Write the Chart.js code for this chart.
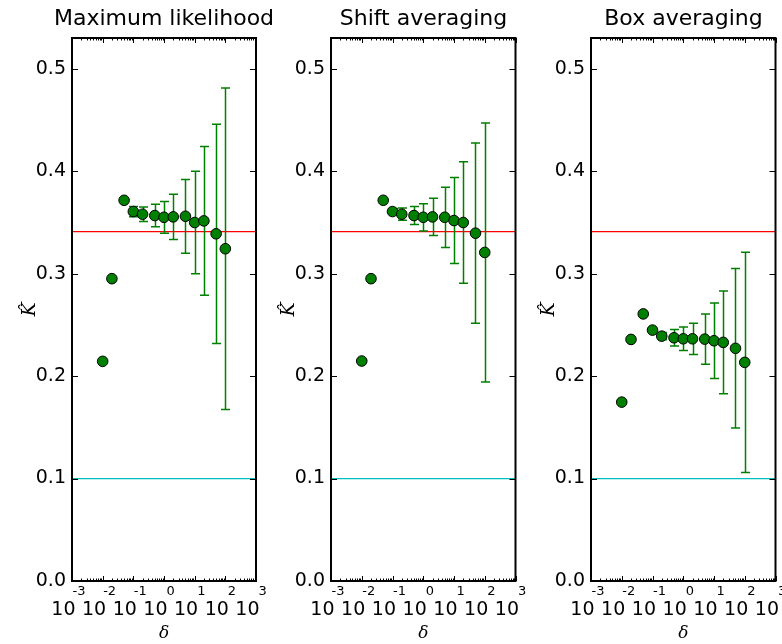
<!DOCTYPE html>
<html><head><meta charset="utf-8">
<script src="https://cdn.jsdelivr.net/npm/chart.js@4"></script>
<style>
html,body{margin:0;padding:0;background:#fff;width:782px;height:644px;overflow:hidden;position:relative;}
canvas{position:absolute;top:0;background:transparent;}
</style></head><body>
<canvas id="c0"></canvas><canvas id="c1"></canvas><canvas id="c2"></canvas>
<script>
// ---- data ----
const deltas = [0.01, 0.02, 0.05, 0.1, 0.2, 0.5, 1, 2, 5, 10, 20, 50, 100];
const titles = ["Maximum likelihood", "Shift averaging", "Box averaging"];
const mlValues    = [0.2144, 0.2951, 0.3716, 0.3606, 0.358, 0.3567, 0.355, 0.3554, 0.356, 0.3499, 0.3515, 0.3389, 0.3243];
const mlErrors    = [0, 0, 0, 0.005, 0.007, 0.011, 0.0155, 0.022, 0.036, 0.050, 0.0725, 0.107, 0.157];
const shiftValues = [0.2147, 0.2951, 0.3716, 0.3606, 0.358, 0.3567, 0.355, 0.3554, 0.355, 0.3518, 0.3499, 0.3395, 0.3207];
const shiftErrors = [0, 0, 0, 0.003, 0.006, 0.0088, 0.0133, 0.0182, 0.0294, 0.042, 0.0593, 0.088, 0.1264];
const boxValues   = [0.1746, 0.2358, 0.2607, 0.2449, 0.239, 0.2374, 0.2364, 0.2364, 0.2361, 0.2345, 0.2329, 0.2271, 0.2134];
const boxErrors   = [0, 0, 0, 0, 0.0036, 0.0081, 0.0115, 0.0153, 0.0246, 0.0368, 0.0502, 0.0778, 0.1076];
const trueK = 0.341;
const refK = 0.1;
const yTicks = [0, 0.1, 0.2, 0.3, 0.4, 0.5];
const xTickExps = [-3, -2, -1, 0, 1, 2, 3];
const xMinorMults = [2, 3, 4, 5, 6, 7, 8, 9];

const panels = [
  {id: 'c0', values: mlValues, errors: mlErrors, axisLeft: 72, axisRight: 256},
  {id: 'c1', values: shiftValues, errors: shiftErrors, axisLeft: 331, axisRight: 515.5},
  {id: 'c2', values: boxValues, errors: boxErrors, axisLeft: 591, axisRight: 775.5}
];

const Y_AXIS_W = 72;

function errPlugin(vals, errs) {
  return {
    id: 'errbars',
    beforeDatasetDraw(chart, args) {
      if (args.index !== 0) return;
      const {ctx, scales: {x, y}} = chart;
      ctx.save();
      ctx.strokeStyle = '#008000';
      ctx.lineWidth = 1.5;
      deltas.forEach((d, i) => {
        const e = errs[i];
        if (!e) return;
        const px = Math.round(x.getPixelForValue(d)) + 0.5;
        const y1 = y.getPixelForValue(vals[i] - e);
        const y2 = y.getPixelForValue(vals[i] + e);
        ctx.beginPath();
        ctx.moveTo(px, y1); ctx.lineTo(px, y2);
        ctx.moveTo(px - 4.5, y1); ctx.lineTo(px + 4.5, y1);
        ctx.moveTo(px - 4.5, y2); ctx.lineTo(px + 4.5, y2);
        ctx.stroke();
      });
      ctx.restore();
    }
  };
}

const framePlugin = {
  id: 'frame',
  afterDraw(chart) {
    const {ctx, chartArea: {left, right, top, bottom}, scales: {x, y}} = chart;
    ctx.save();
    ctx.strokeStyle = '#000';
    ctx.lineWidth = 1;
    yTicks.forEach(v => {
      const py = Math.round(y.getPixelForValue(v)) + 0.5;
      ctx.beginPath();
      ctx.moveTo(left, py); ctx.lineTo(left + 6, py);
      ctx.moveTo(right, py); ctx.lineTo(right - 6, py);
      ctx.stroke();
    });
    xTickExps.forEach(k => {
      const px = Math.round(x.getPixelForValue(Math.pow(10, k))) + 0.5;
      ctx.beginPath();
      ctx.moveTo(px, bottom); ctx.lineTo(px, bottom - 5);
      ctx.moveTo(px, top); ctx.lineTo(px, top + 5);
      ctx.stroke();
      if (k < 3) {
        xMinorMults.forEach(m => {
          const qx = Math.round(x.getPixelForValue(m * Math.pow(10, k))) + 0.5;
          ctx.beginPath();
          ctx.moveTo(qx, bottom); ctx.lineTo(qx, bottom - 2.5);
          ctx.moveTo(qx, top); ctx.lineTo(qx, top + 2.5);
          ctx.stroke();
        });
      }
    });
    ctx.lineWidth = 2;
    ctx.strokeRect(left, top, right - left, bottom - top);
    ctx.fillStyle = '#000';
    ctx.textBaseline = 'middle';
    xTickExps.forEach(k => {
      const t = x.getPixelForValue(Math.pow(10, k));
      ctx.font = '19px "DejaVu Sans"';
      ctx.textAlign = 'right';
      ctx.fillText('10', t + 3.5, 610);
      ctx.font = '13px "DejaVu Sans"';
      ctx.textAlign = 'left';
      ctx.fillText(String(k), t + (k < 0 ? 0.5 : 2.5), 592);
    });
    ctx.restore();
  }
};

panels.forEach((p, idx) => {
  const el = document.getElementById(p.id);
  const cLeft = p.axisLeft - Y_AXIS_W;
  const center = (p.axisLeft + p.axisRight) / 2;
  const w = Math.round(2 * (center - cLeft));
  const padR = w - Y_AXIS_W - (p.axisRight - p.axisLeft);
  el.style.left = cLeft + 'px';
  el.width = w; el.height = 644;
  el.style.width = w + 'px'; el.style.height = '644px';
  new Chart(el, {
    type: 'scatter',
    data: {
      datasets: [
        {data: deltas.map((d, i) => ({x: d, y: p.values[i]})), backgroundColor: '#008000', borderColor: '#000', borderWidth: 1, pointRadius: 5.3, order: 0},
        {data: [{x: 1e-3, y: trueK}, {x: 1e3, y: trueK}], showLine: true, borderColor: '#ff0000', borderWidth: 1.3, pointRadius: 0, order: 1},
        {data: [{x: 1e-3, y: refK}, {x: 1e3, y: refK}], showLine: true, borderColor: '#00bfbf', borderWidth: 1.3, pointRadius: 0, order: 2}
      ]
    },
    options: {
      responsive: false,
      animation: false,
      devicePixelRatio: 1,
      layout: {padding: 0},
      plugins: {
        legend: {display: false},
        tooltip: {enabled: false},
        title: {display: true, text: titles[idx], fullSize: true, color: '#000',
          font: {family: 'DejaVu Sans', size: 22, weight: 'normal'}, padding: {top: 6, bottom: 5.6}}
      },
      scales: {
        x: {
          type: 'logarithmic', min: 1e-3, max: 1e3,
          grid: {display: false, drawTicks: false}, border: {display: false},
          ticks: {display: false},
          title: {display: true, text: 'δ', color: '#000', font: {family: 'DejaVu Serif', style: 'italic', size: 17}, padding: {top: 0, bottom: 0}},
          afterFit: s => { s.height = 63; }
        },
        y: {
          min: 0, max: 0.53,
          afterBuildTicks: s => { s.ticks = yTicks.map(v => ({value: v})); },
          ticks: {callback: v => Number(v).toFixed(1), color: '#000', font: {family: 'DejaVu Sans', size: 19}, padding: 6},
          grid: {display: false, drawTicks: false}, border: {display: false},
          title: {display: true, text: 'K\u0302', color: '#000', font: {family: 'DejaVu Serif', style: 'italic', size: 19}, padding: {top: 19, bottom: 0}},
          afterFit: s => { s.width = Y_AXIS_W; }
        },
        yRight: {
          position: 'right', display: true, min: 0, max: 1,
          grid: {display: false, drawTicks: false}, border: {display: false},
          ticks: {display: false},
          afterFit: s => { s.width = padR; }
        }
      }
    },
    plugins: [errPlugin(p.values, p.errors), framePlugin]
  });
});
</script>
</body></html>
